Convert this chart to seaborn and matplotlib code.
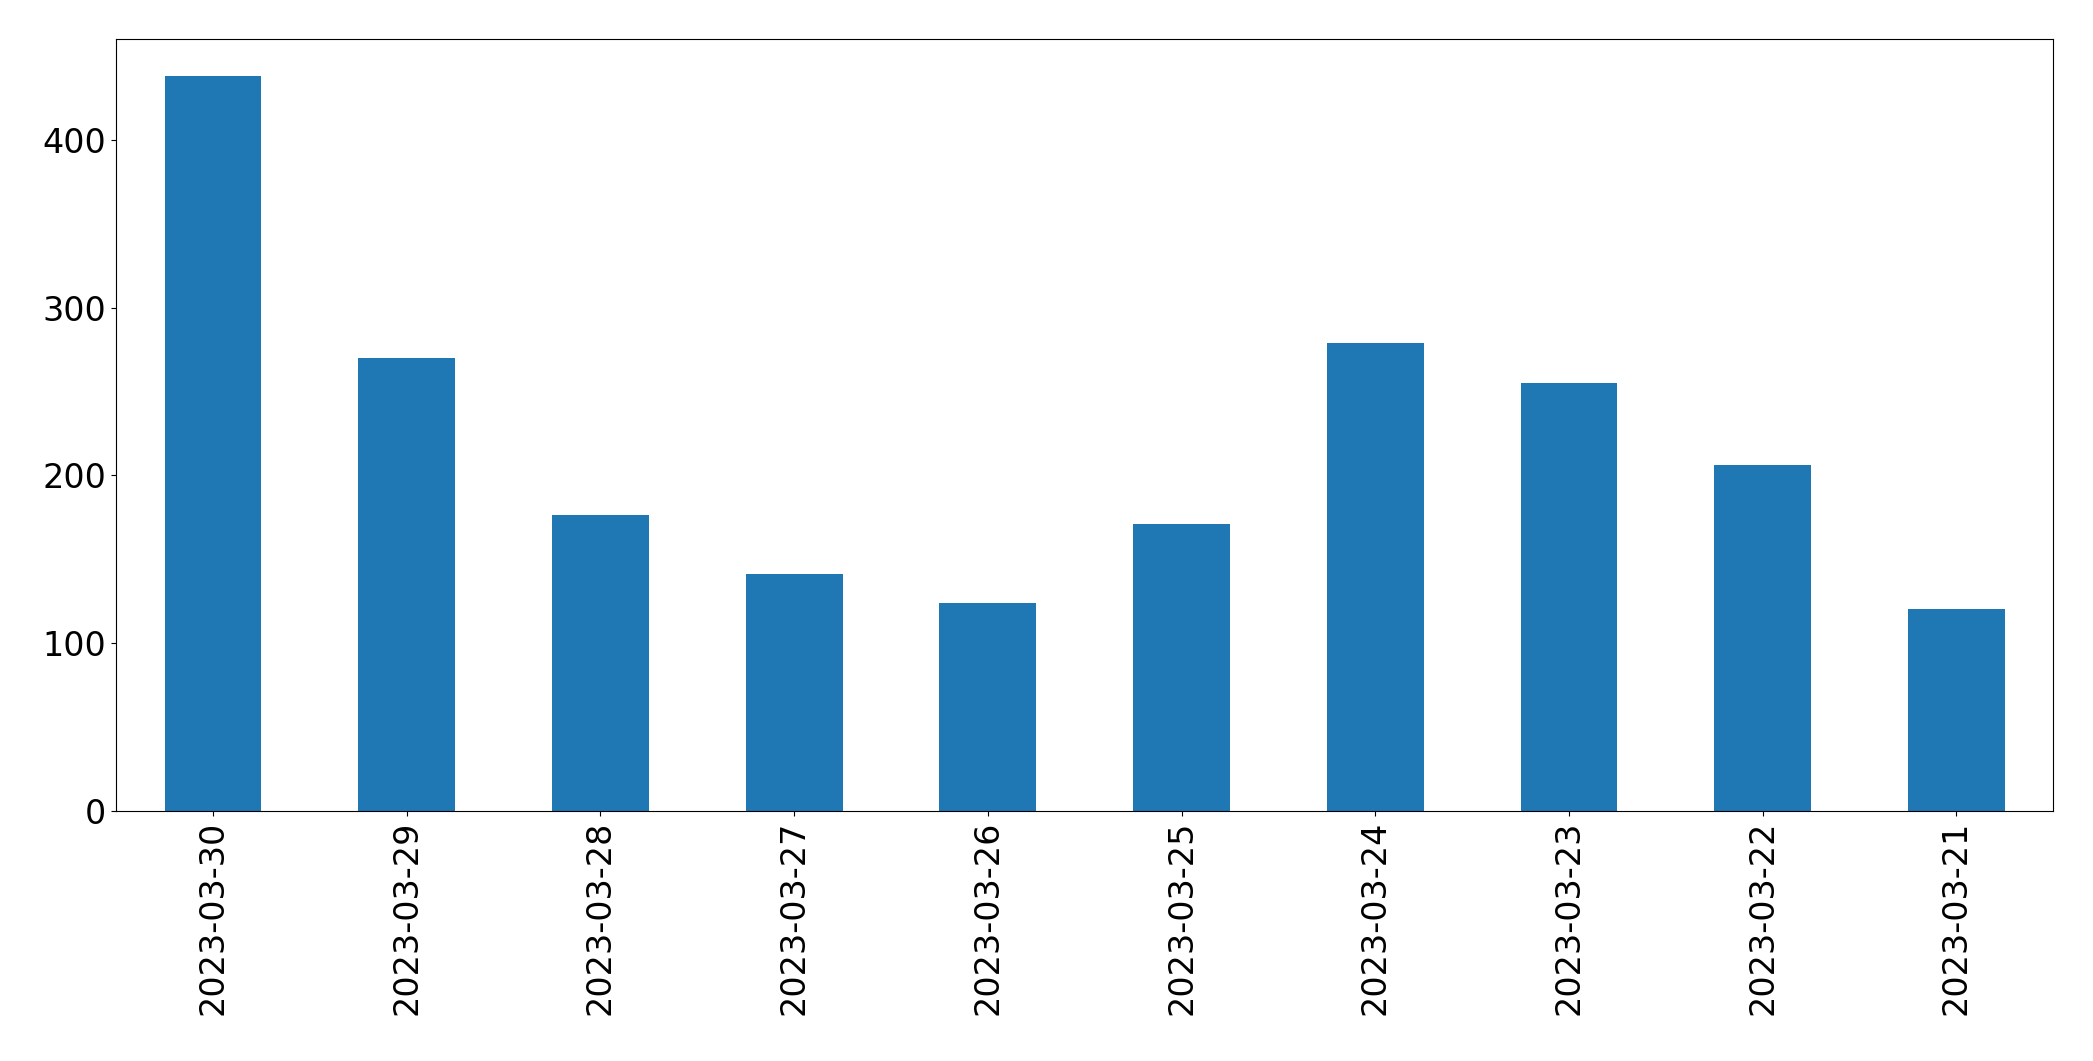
import matplotlib
matplotlib.use("Agg")
import matplotlib.pyplot as plt
import seaborn as sns
import pandas as pd

# data
dates = ["2023-03-30", "2023-03-29", "2023-03-28", "2023-03-27", "2023-03-26",
         "2023-03-25", "2023-03-24", "2023-03-23", "2023-03-22", "2023-03-21"]
counts = [438, 270, 176, 141, 124, 171, 279, 255, 206, 120]

df = pd.DataFrame({"date": dates, "count": counts})

fig = plt.figure(figsize=(20.93, 10.61), dpi=100)
ax = fig.add_axes([0.0555, 0.236, 0.9255, 0.727])
sns.barplot(data=df, x="date", y="count", order=dates, color="#1f77b4",
            saturation=1, width=0.5, ax=ax)
ax.set_xlabel("")
ax.set_ylabel("")
ax.set_ylim(0, 460)
ax.set_xlim(-0.5, len(dates) - 0.5)
ax.tick_params(axis="both", labelsize=24)
ax.tick_params(axis="x", labelrotation=90)
fig.savefig("out.png", dpi=100)
